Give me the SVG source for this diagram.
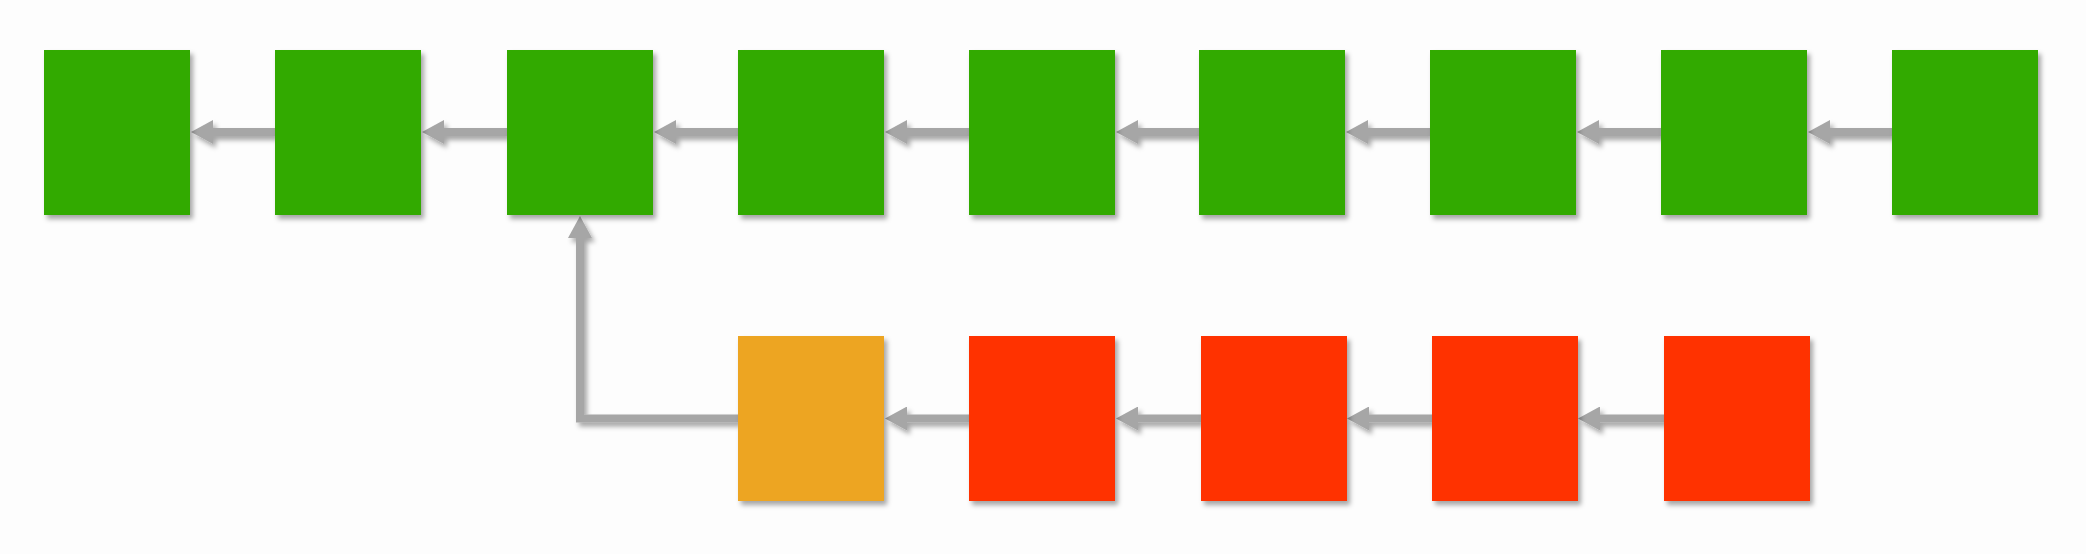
<svg xmlns="http://www.w3.org/2000/svg" width="2086" height="554" viewBox="0 0 2086 554">
<defs>
<filter id="sh" x="-20%" y="-20%" width="140%" height="140%">
<feDropShadow dx="3" dy="4" stdDeviation="2.5" flood-color="#000" flood-opacity="0.35"/>
</filter>
<marker id="ah" markerUnits="userSpaceOnUse" markerWidth="22" markerHeight="24" viewBox="0 0 22 24" refX="0" refY="12" orient="auto">
<path d="M0,0 L22,12 L0,24 Z" fill="#a6a6a6"/>
</marker>
</defs>
<style>
.g{fill:#30aa06;filter:url(#sh)}
.r{fill:#ff3300;filter:url(#sh)}
.o{fill:#eda523;filter:url(#sh)}
.c{fill:none;stroke:#a6a6a6;stroke-width:8;marker-end:url(#ah)}
</style>
<rect width="2086" height="554" fill="#fdfdfd"/>
<g id="connectors" filter="url(#sh)">
<path class="c" d="M275,132 H213"/>
<path class="c" d="M507,132 H444"/>
<path class="c" d="M738,132 H676"/>
<path class="c" d="M969,132 H907"/>
<path class="c" d="M1199,132 H1138"/>
<path class="c" d="M1430,132 H1368"/>
<path class="c" d="M1661,132 H1599"/>
<path class="c" d="M1892,132 H1830"/>
<path class="c" d="M969,418.5 H907"/>
<path class="c" d="M1201,418.5 H1138"/>
<path class="c" d="M1432,418.5 H1369"/>
<path class="c" d="M1664,418.5 H1600"/>
<path class="c" d="M738,418.5 H580 V238" stroke-linejoin="miter"/>
</g>
<g id="n1"><rect class="g" x="44" y="50" width="146" height="165"/></g>
<g id="n2"><rect class="g" x="275" y="50" width="146" height="165"/></g>
<g id="n3"><rect class="g" x="507" y="50" width="146" height="165"/></g>
<g id="n4"><rect class="g" x="738" y="50" width="146" height="165"/></g>
<g id="n5"><rect class="g" x="969" y="50" width="146" height="165"/></g>
<g id="n6"><rect class="g" x="1199" y="50" width="146" height="165"/></g>
<g id="n7"><rect class="g" x="1430" y="50" width="146" height="165"/></g>
<g id="n8"><rect class="g" x="1661" y="50" width="146" height="165"/></g>
<g id="n9"><rect class="g" x="1892" y="50" width="146" height="165"/></g>
<g id="b1"><rect class="o" x="738" y="336" width="146" height="165"/></g>
<g id="b2"><rect class="r" x="969" y="336" width="146" height="165"/></g>
<g id="b3"><rect class="r" x="1201" y="336" width="146" height="165"/></g>
<g id="b4"><rect class="r" x="1432" y="336" width="146" height="165"/></g>
<g id="b5"><rect class="r" x="1664" y="336" width="146" height="165"/></g>
</svg>
